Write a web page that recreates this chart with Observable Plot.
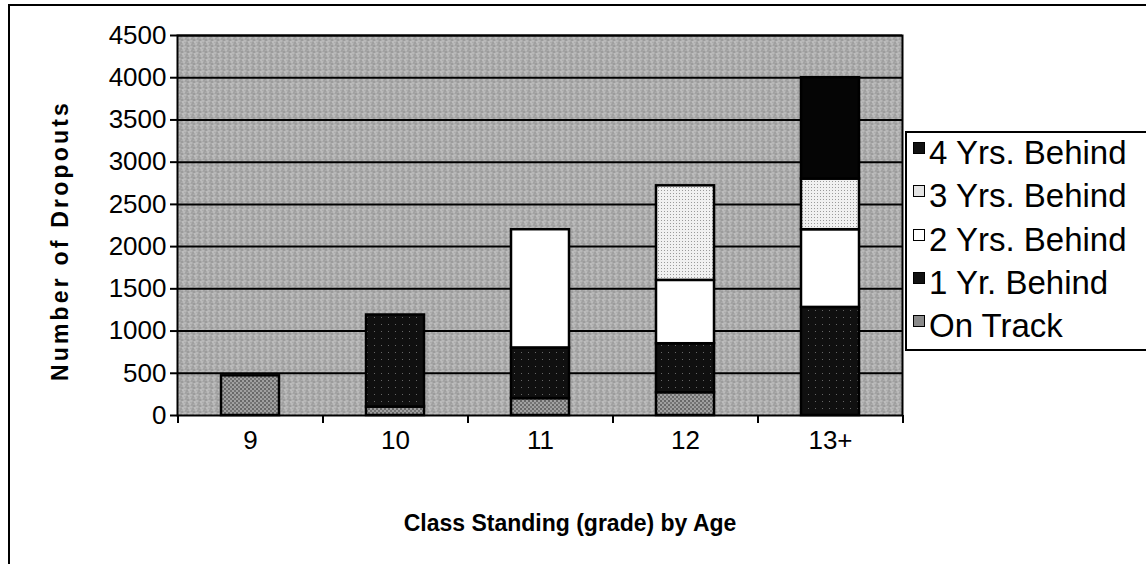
<!DOCTYPE html>
<html><head><meta charset="utf-8">
<script src="https://cdn.jsdelivr.net/npm/d3@7"></script>
<script src="https://cdn.jsdelivr.net/npm/@observablehq/plot@0.6"></script>
<style>
body{margin:0;background:#fff;font-family:"Liberation Sans",Arial,sans-serif;}
#wrap{position:relative;width:1146px;height:564px;overflow:hidden;background:#fff;}
#border{position:absolute;left:8px;top:4px;width:1170px;height:600px;border:2px solid #000;box-sizing:border-box;}
#chart{position:absolute;left:0;top:0;}
#legend{position:absolute;left:905px;top:131px;width:270px;height:220px;border:2px solid #000;box-sizing:border-box;background:#fff;}
.item{position:absolute;left:6px;font-size:33px;line-height:36px;white-space:nowrap;color:#000;}
.sw{display:inline-block;width:12px;height:12px;border:1.5px solid #000;vertical-align:top;margin-top:7px;margin-right:4px;box-sizing:border-box;}
</style></head>
<body><div id="wrap"><div id="border"></div><div id="chart"></div><div id="legend"></div></div>
<script>
const grades = ["9", "10", "11", "12", "13+"];
const statuses = ["On Track", "1 Yr. Behind", "2 Yrs. Behind", "3 Yrs. Behind", "4 Yrs. Behind"];
const onTrack = [470, 100, 200, 270, 0];
const yr1Behind = [0, 1090, 600, 580, 1280];
const yr2Behind = [0, 0, 1400, 750, 920];
const yr3Behind = [0, 0, 0, 1120, 600];
const yr4Behind = [0, 0, 0, 0, 1200];
const yTicks = [0, 500, 1000, 1500, 2000, 2500, 3000, 3500, 4000, 4500];
const series = [onTrack, yr1Behind, yr2Behind, yr3Behind, yr4Behind];
const yTitle = "Number of Dropouts";
const xTitle = "Class Standing (grade) by Age";

const rows = [];
grades.forEach((g, i) => statuses.forEach((s, j) => {
  if (series[j][i] > 0) rows.push({grade: g, status: s, value: series[j][i]});
}));

const fills = ["url(#pOn)", "url(#p1)", "#ffffff", "url(#p3)", "#050505"];
const W = 906, ML = 177, MR = 4;
const step = (W - ML - MR) / grades.length;

const chart = Plot.plot({
  width: W, height: 564,
  marginLeft: ML, marginRight: MR, marginTop: 35, marginBottom: 149,
  style: {fontFamily: "'Liberation Sans', Arial, sans-serif", color: "#000", background: "transparent"},
  x: {domain: grades, paddingInner: 0.6, paddingOuter: 0.3, label: null},
  y: {domain: [0, 4500], label: null},
  color: {domain: statuses, range: fills},
  marks: [
    Plot.frame({fill: "url(#pBg)", stroke: null}),
    Plot.ruleY(yTicks.filter(d => d > 0), {stroke: "#000", strokeWidth: 2}),
    Plot.barY(rows, {x: "grade", y: "value", fill: "status", order: statuses, stroke: "#000", strokeWidth: 2.5}),
    Plot.frame({stroke: "#000", strokeWidth: 2}),
    Plot.axisY({ticks: yTicks, tickFormat: d => String(d), tickSize: 7, tickPadding: 4, fontSize: 26, strokeWidth: 2, label: null}),
    Plot.axisX({tickSize: 0, tickPadding: 15, fontSize: 26, label: null}),
    Plot.ruleX(grades, {x: d => d, dx: -step / 2, y1: 0, y2: 0, insetBottom: -8, stroke: "#000", strokeWidth: 2}),
    Plot.ruleX(grades.slice(-1), {x: d => d, dx: step / 2, y1: 0, y2: 0, insetBottom: -8, stroke: "#000", strokeWidth: 2}),
    Plot.text([yTitle], {frameAnchor: "left", textAnchor: "middle", rotate: -90, dx: -117, dy: 15, fontWeight: "bold", fontSize: 23, lineAnchor: "middle"}),
    Plot.text([xTitle], {frameAnchor: "bottom", textAnchor: "middle", dx: 30, dy: 108, fontWeight: "bold", fontSize: 23, lineAnchor: "middle"})
  ]
});

const ns = "http://www.w3.org/2000/svg";
const defs = document.createElementNS(ns, "defs");
defs.innerHTML = `
<pattern id="pBg" width="6" height="6" patternUnits="userSpaceOnUse">
  <rect width="6" height="6" fill="#acacac"/>
  <rect x="0" y="0" width="1" height="1" fill="#7a7a7a"/>
  <rect x="3" y="1" width="1" height="1" fill="#e4e4e4"/>
  <rect x="1" y="3" width="1" height="1" fill="#6a6a6a"/>
  <rect x="4" y="4" width="1" height="1" fill="#dcdcdc"/>
  <rect x="5" y="2" width="1" height="1" fill="#848484"/>
  <rect x="2" y="5" width="1" height="1" fill="#ececec"/>
</pattern>
<pattern id="pOn" width="4" height="4" patternUnits="userSpaceOnUse">
  <rect width="4" height="4" fill="#a0a0a0"/>
  <rect x="0" y="0" width="2" height="2" fill="#686868"/>
  <rect x="2" y="2" width="2" height="2" fill="#747474"/>
</pattern>
<pattern id="p1" width="7" height="7" patternUnits="userSpaceOnUse">
  <rect width="7" height="7" fill="#101010"/>
  <rect x="3" y="2" width="1" height="1" fill="#666"/>
</pattern>
<pattern id="p3" width="3" height="3" patternUnits="userSpaceOnUse">
  <rect width="3" height="3" fill="#f0f0f0"/>
  <rect x="1" y="1" width="1" height="1" fill="#9a9a9a"/>
</pattern>`;
chart.insertBefore(defs, chart.firstChild);
chart.querySelectorAll("text").forEach(t => {
  if (t.textContent === yTitle) t.style.letterSpacing = "3.2px";
});
document.getElementById("chart").appendChild(chart);

const legendFills = {"On Track": "#8a8a8a", "1 Yr. Behind": "#111", "2 Yrs. Behind": "#fff", "3 Yrs. Behind": "#e4e4e4", "4 Yrs. Behind": "#111"};
const legend = document.getElementById("legend");
statuses.slice().reverse().forEach((s, i) => {
  const el = document.createElement("div");
  el.className = "item";
  el.style.top = (2 + i * 43.3) + "px";
  el.innerHTML = `<span class="sw" style="background:${legendFills[s]}"></span>${s}`;
  legend.appendChild(el);
});
</script></body></html>
